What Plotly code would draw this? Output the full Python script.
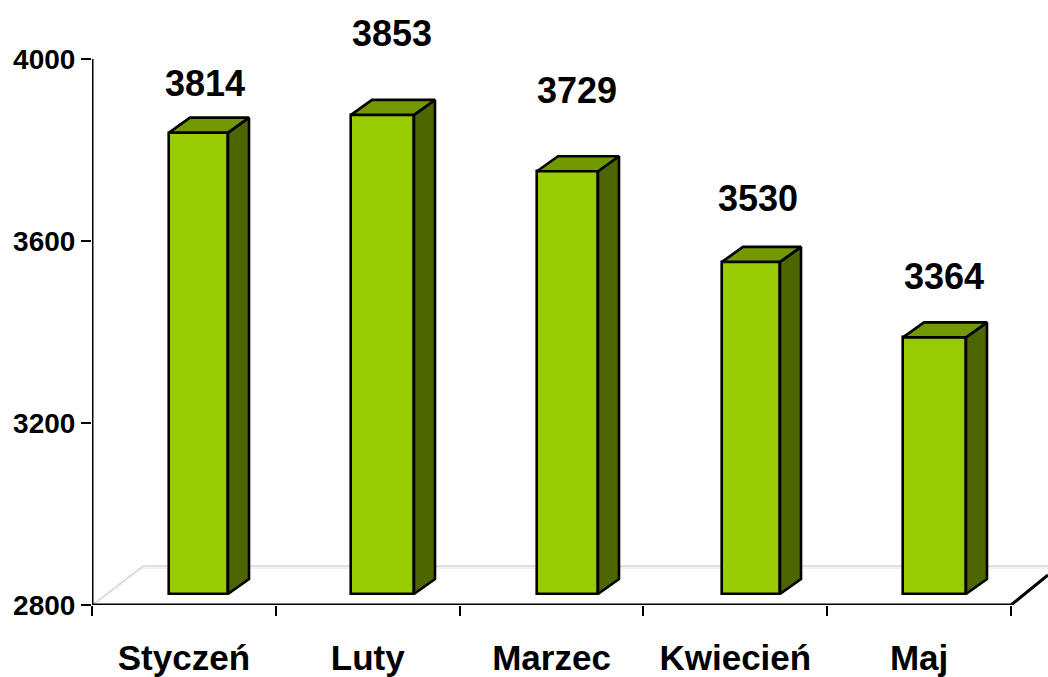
import plotly.graph_objects as go

categories = ["Styczeń", "Luty", "Marzec", "Kwiecień", "Maj"]
values = [3814, 3853, 3729, 3530, 3364]
y_ticks = [2800, 3200, 3600, 4000]

# layout geometry, in pixels of the 1048x677 page
W, H = 1048, 677
L, AXIS_Y, AXIS_END = 92, 605, 1011
PX_X = (AXIS_END - L) / 5
PX_Y = 546 / 1200
Y0 = 2800


def dx(p):
    return p / PX_X


def dy(p):
    return p / PX_Y


x_min = -0.5
x_max = x_min + dx(W - L)
y_max = Y0 + dy(AXIS_Y)

bar_left_px = [169, 351, 537, 722, 903]
bar_right_px = [228, 414, 598, 780, 966]
label_center_px = [205, 392, 577, 758, 944]
label_gap_px = [46, 78, 77, 60, 57]

FLOOR = dy(11)
DX, DY = dx(21), dy(15)
BACK_X, BACK_Y = dx(51), dy(39)
SIDE_X, SIDE_Y = dx(37), dy(30)
LINE = 2.6

FRONT, TOP, SIDE = "#99CC00", "#739900", "#4D6600"
FONT = "Liberation Sans"

fig = go.Figure()

lefts = [x_min + dx(p - L) for p in bar_left_px]
rights = [x_min + dx(p - L) for p in bar_right_px]

# front faces
fig.add_trace(go.Bar(
    x=[(a + b) / 2 for a, b in zip(lefts, rights)],
    y=[v - Y0 for v in values],
    base=[Y0 + FLOOR] * len(values),
    width=[b - a for a, b in zip(lefts, rights)],
    marker=dict(color=FRONT, line=dict(color="black", width=LINE)),
    hoverinfo="skip",
))

for a, b, v in zip(lefts, rights, values):
    top = v + FLOOR
    bottom = Y0 + FLOOR
    fig.add_trace(go.Scatter(
        x=[b, b + DX, b + DX, b, b], y=[top, top + DY, bottom + DY, bottom, top],
        mode="lines", fill="toself", fillcolor=SIDE,
        line=dict(color="black", width=LINE), hoverinfo="skip", cliponaxis=False))
    fig.add_trace(go.Scatter(
        x=[a, a + DX, b + DX, b, a], y=[top, top + DY, top + DY, top, top],
        mode="lines", fill="toself", fillcolor=TOP,
        line=dict(color="black", width=LINE), hoverinfo="skip", cliponaxis=False))

# axis lines
fig.add_trace(go.Scatter(
    x=[x_min, x_min, x_min + dx(AXIS_END - L), x_min + dx(AXIS_END - L) + SIDE_X],
    y=[4000, Y0, Y0, Y0 + SIDE_Y],
    mode="lines", line=dict(color="black", width=3),
    hoverinfo="skip", cliponaxis=False))

# value labels
fig.add_trace(go.Scatter(
    x=[x_min + dx(p - L) for p in label_center_px],
    y=[v + FLOOR + dy(g) for v, g in zip(values, label_gap_px)],
    mode="text", text=[str(v) for v in values],
    textposition="middle center",
    textfont=dict(family=FONT, size=36, color="black", weight="bold"),
    hoverinfo="skip", cliponaxis=False))

# floor of the pseudo-3D plot, behind the bars
shapes = []
for off, col in [(0, "#C0C0C0"), (dy(-2), "#E4E4E4")]:
    shapes.append(dict(type="line", xref="x", yref="y", layer="below",
                       x0=x_min + BACK_X, y0=Y0 + BACK_Y + off, x1=x_max, y1=Y0 + BACK_Y + off,
                       line=dict(color=col, width=1)))
for off, col in [(0, "#C0C0C0"), (dx(2), "#E4E4E4")]:
    shapes.append(dict(type="line", xref="x", yref="y", layer="below",
                       x0=x_min + off, y0=Y0, x1=x_min + BACK_X + off, y1=Y0 + BACK_Y,
                       line=dict(color=col, width=1)))

fig.update_layout(
    width=W, height=H,
    margin=dict(l=L, r=0, t=0, b=H - AXIS_Y, pad=0, autoexpand=False),
    paper_bgcolor="white", plot_bgcolor="white",
    showlegend=False, shapes=shapes, bargap=0,
    xaxis=dict(
        range=[x_min, x_max], showgrid=False, zeroline=False, showline=False,
        automargin=False,
        tickmode="array", tickvals=list(range(len(categories))), ticktext=categories,
        ticks="", ticklabelstandoff=29,
        tickfont=dict(family=FONT, size=35, color="black", weight="bold"),
        minor=dict(tick0=-0.5, dtick=1, ticks="outside", ticklen=10, tickwidth=2.4, tickcolor="black"),
    ),
    yaxis=dict(
        range=[Y0, y_max], showgrid=False, zeroline=False, showline=False,
        automargin=False,
        tickmode="array", tickvals=y_ticks, ticks="outside", ticklen=10, tickwidth=2.4,
        tickcolor="black",
        tickfont=dict(family=FONT, size=28, color="black", weight="bold"),
    ),
)

fig.write_html(
    "out.html",
    config=dict(displayModeBar=False),
    post_script="document.body.style.margin='0';document.body.style.overflow='hidden';",
)
